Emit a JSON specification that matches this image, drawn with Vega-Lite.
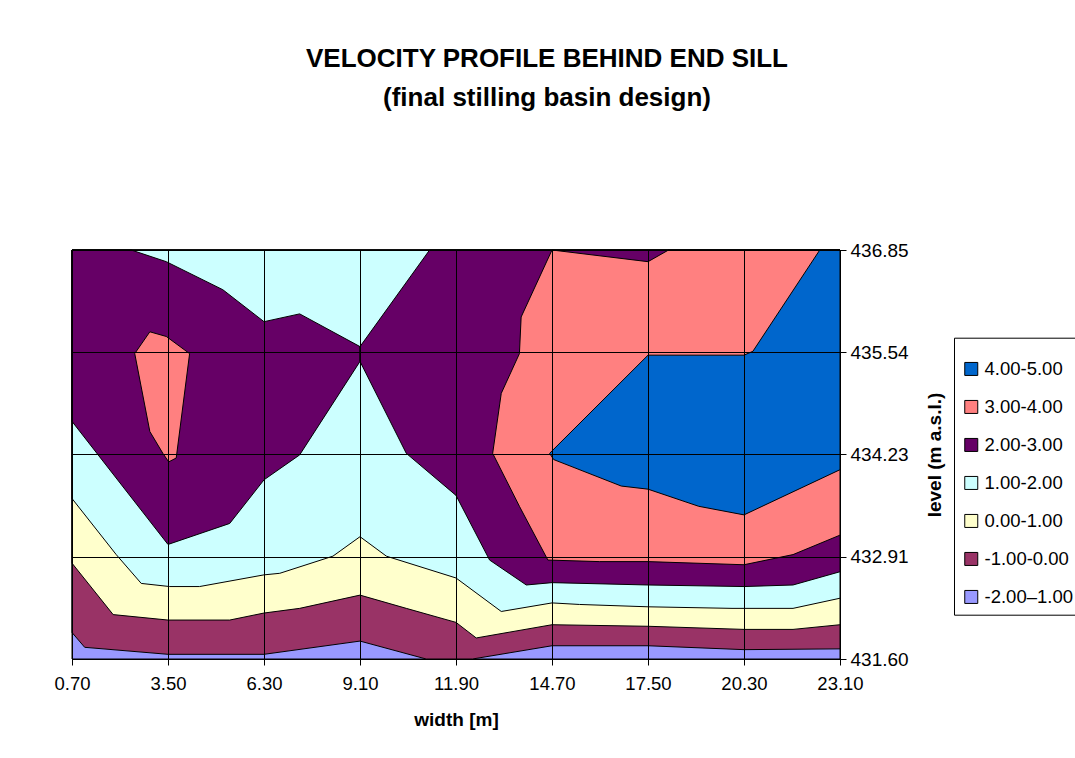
{
  "$schema": "https://vega.github.io/schema/vega-lite/v6.json",
  "width": 768,
  "height": 409,
  "autosize": {"type": "none"},
  "padding": {"left": 72, "top": 250, "right": 235, "bottom": 99},
  "background": "white",
  "title": {
    "text": ["VELOCITY PROFILE BEHIND END SILL", "(final stilling basin design)"],
    "font": "Liberation Sans",
    "fontSize": 26,
    "fontWeight": "bold",
    "color": "black",
    "lineHeight": 39,
    "anchor": "middle",
    "dx": 91,
    "offset": 130
  },
  "config": {
    "view": {"stroke": "black", "strokeWidth": 1},
    "font": "Liberation Sans"
  },
  "data": {
    "values": [
      {"poly": "lav", "band": "-2.00–1.00", "i": 0, "x": 0.7, "y": 436.85},
      {"poly": "lav", "band": "-2.00–1.00", "i": 1, "x": 23.1, "y": 436.85},
      {"poly": "lav", "band": "-2.00–1.00", "i": 2, "x": 23.1, "y": 431.6},
      {"poly": "lav", "band": "-2.00–1.00", "i": 3, "x": 0.7, "y": 431.6},

      {"poly": "mar", "band": "-1.00-0.00", "i": 0, "x": 0.7, "y": 436.85},
      {"poly": "mar", "band": "-1.00-0.00", "i": 1, "x": 23.1, "y": 436.85},
      {"poly": "mar", "band": "-1.00-0.00", "i": 2, "x": 23.1, "y": 431.73},
      {"poly": "mar", "band": "-1.00-0.00", "i": 3, "x": 20.3, "y": 431.72},
      {"poly": "mar", "band": "-1.00-0.00", "i": 4, "x": 17.5, "y": 431.77},
      {"poly": "mar", "band": "-1.00-0.00", "i": 5, "x": 14.7, "y": 431.77},
      {"poly": "mar", "band": "-1.00-0.00", "i": 6, "x": 12.38, "y": 431.6},
      {"poly": "mar", "band": "-1.00-0.00", "i": 7, "x": 11.03, "y": 431.6},
      {"poly": "mar", "band": "-1.00-0.00", "i": 8, "x": 9.1, "y": 431.83},
      {"poly": "mar", "band": "-1.00-0.00", "i": 9, "x": 6.3, "y": 431.66},
      {"poly": "mar", "band": "-1.00-0.00", "i": 10, "x": 3.5, "y": 431.66},
      {"poly": "mar", "band": "-1.00-0.00", "i": 11, "x": 1.07, "y": 431.75},
      {"poly": "mar", "band": "-1.00-0.00", "i": 12, "x": 0.7, "y": 431.94},

      {"poly": "yel", "band": "0.00-1.00", "i": 0, "x": 0.7, "y": 436.85},
      {"poly": "yel", "band": "0.00-1.00", "i": 1, "x": 23.1, "y": 436.85},
      {"poly": "yel", "band": "0.00-1.00", "i": 2, "x": 23.1, "y": 432.04},
      {"poly": "yel", "band": "0.00-1.00", "i": 3, "x": 21.73, "y": 431.98},
      {"poly": "yel", "band": "0.00-1.00", "i": 4, "x": 20.3, "y": 431.98},
      {"poly": "yel", "band": "0.00-1.00", "i": 5, "x": 17.5, "y": 432.02},
      {"poly": "yel", "band": "0.00-1.00", "i": 6, "x": 14.7, "y": 432.04},
      {"poly": "yel", "band": "0.00-1.00", "i": 7, "x": 12.49, "y": 431.87},
      {"poly": "yel", "band": "0.00-1.00", "i": 8, "x": 11.9, "y": 432.07},
      {"poly": "yel", "band": "0.00-1.00", "i": 9, "x": 10.45, "y": 432.25},
      {"poly": "yel", "band": "0.00-1.00", "i": 10, "x": 9.1, "y": 432.42},
      {"poly": "yel", "band": "0.00-1.00", "i": 11, "x": 7.34, "y": 432.25},
      {"poly": "yel", "band": "0.00-1.00", "i": 12, "x": 6.3, "y": 432.19},
      {"poly": "yel", "band": "0.00-1.00", "i": 13, "x": 5.3, "y": 432.1},
      {"poly": "yel", "band": "0.00-1.00", "i": 14, "x": 3.5, "y": 432.1},
      {"poly": "yel", "band": "0.00-1.00", "i": 15, "x": 1.9, "y": 432.17},
      {"poly": "yel", "band": "0.00-1.00", "i": 16, "x": 0.7, "y": 432.83},

      {"poly": "cya", "band": "1.00-2.00", "i": 0, "x": 0.7, "y": 436.85},
      {"poly": "cya", "band": "1.00-2.00", "i": 1, "x": 23.1, "y": 436.85},
      {"poly": "cya", "band": "1.00-2.00", "i": 2, "x": 23.1, "y": 432.38},
      {"poly": "cya", "band": "1.00-2.00", "i": 3, "x": 21.73, "y": 432.25},
      {"poly": "cya", "band": "1.00-2.00", "i": 4, "x": 19.95, "y": 432.25},
      {"poly": "cya", "band": "1.00-2.00", "i": 5, "x": 17.5, "y": 432.27},
      {"poly": "cya", "band": "1.00-2.00", "i": 6, "x": 15.5, "y": 432.3},
      {"poly": "cya", "band": "1.00-2.00", "i": 7, "x": 14.7, "y": 432.32},
      {"poly": "cya", "band": "1.00-2.00", "i": 8, "x": 13.22, "y": 432.21},
      {"poly": "cya", "band": "1.00-2.00", "i": 9, "x": 11.9, "y": 432.64},
      {"poly": "cya", "band": "1.00-2.00", "i": 10, "x": 9.87, "y": 432.92},
      {"poly": "cya", "band": "1.00-2.00", "i": 11, "x": 9.1, "y": 433.17},
      {"poly": "cya", "band": "1.00-2.00", "i": 12, "x": 8.31, "y": 432.92},
      {"poly": "cya", "band": "1.00-2.00", "i": 13, "x": 6.76, "y": 432.7},
      {"poly": "cya", "band": "1.00-2.00", "i": 14, "x": 6.3, "y": 432.68},
      {"poly": "cya", "band": "1.00-2.00", "i": 15, "x": 4.42, "y": 432.53},
      {"poly": "cya", "band": "1.00-2.00", "i": 16, "x": 3.55, "y": 432.53},
      {"poly": "cya", "band": "1.00-2.00", "i": 17, "x": 2.72, "y": 432.57},
      {"poly": "cya", "band": "1.00-2.00", "i": 18, "x": 1.99, "y": 432.94},
      {"poly": "cya", "band": "1.00-2.00", "i": 19, "x": 0.7, "y": 433.66},

      {"poly": "pur1", "band": "2.00-3.00", "i": 0, "x": 0.7, "y": 436.85},
      {"poly": "pur1", "band": "2.00-3.00", "i": 1, "x": 2.43, "y": 436.85},
      {"poly": "pur1", "band": "2.00-3.00", "i": 2, "x": 3.45, "y": 436.7},
      {"poly": "pur1", "band": "2.00-3.00", "i": 3, "x": 5.1, "y": 436.34},
      {"poly": "pur1", "band": "2.00-3.00", "i": 4, "x": 6.3, "y": 435.93},
      {"poly": "pur1", "band": "2.00-3.00", "i": 5, "x": 7.34, "y": 436.03},
      {"poly": "pur1", "band": "2.00-3.00", "i": 6, "x": 9.1, "y": 435.61},
      {"poly": "pur1", "band": "2.00-3.00", "i": 7, "x": 9.1, "y": 435.42},
      {"poly": "pur1", "band": "2.00-3.00", "i": 8, "x": 7.34, "y": 434.22},
      {"poly": "pur1", "band": "2.00-3.00", "i": 9, "x": 6.3, "y": 433.9},
      {"poly": "pur1", "band": "2.00-3.00", "i": 10, "x": 5.3, "y": 433.34},
      {"poly": "pur1", "band": "2.00-3.00", "i": 11, "x": 3.5, "y": 433.07},
      {"poly": "pur1", "band": "2.00-3.00", "i": 12, "x": 0.7, "y": 434.65},

      {"poly": "pur2", "band": "2.00-3.00", "i": 0, "x": 9.1, "y": 435.61},
      {"poly": "pur2", "band": "2.00-3.00", "i": 1, "x": 11.13, "y": 436.85},
      {"poly": "pur2", "band": "2.00-3.00", "i": 2, "x": 23.1, "y": 436.85},
      {"poly": "pur2", "band": "2.00-3.00", "i": 3, "x": 23.1, "y": 432.72},
      {"poly": "pur2", "band": "2.00-3.00", "i": 4, "x": 21.73, "y": 432.55},
      {"poly": "pur2", "band": "2.00-3.00", "i": 5, "x": 20.3, "y": 432.53},
      {"poly": "pur2", "band": "2.00-3.00", "i": 6, "x": 17.5, "y": 432.55},
      {"poly": "pur2", "band": "2.00-3.00", "i": 7, "x": 14.7, "y": 432.58},
      {"poly": "pur2", "band": "2.00-3.00", "i": 8, "x": 13.95, "y": 432.55},
      {"poly": "pur2", "band": "2.00-3.00", "i": 9, "x": 12.88, "y": 432.87},
      {"poly": "pur2", "band": "2.00-3.00", "i": 10, "x": 11.9, "y": 433.7},
      {"poly": "pur2", "band": "2.00-3.00", "i": 11, "x": 10.45, "y": 434.24},
      {"poly": "pur2", "band": "2.00-3.00", "i": 12, "x": 9.1, "y": 435.42},

      {"poly": "sal1", "band": "3.00-4.00", "i": 0, "x": 14.7, "y": 436.85},
      {"poly": "sal1", "band": "3.00-4.00", "i": 1, "x": 17.5, "y": 436.7},
      {"poly": "sal1", "band": "3.00-4.00", "i": 2, "x": 18.1, "y": 436.85},
      {"poly": "sal1", "band": "3.00-4.00", "i": 3, "x": 23.1, "y": 436.85},
      {"poly": "sal1", "band": "3.00-4.00", "i": 4, "x": 23.1, "y": 433.19},
      {"poly": "sal1", "band": "3.00-4.00", "i": 5, "x": 21.73, "y": 432.94},
      {"poly": "sal1", "band": "3.00-4.00", "i": 6, "x": 20.3, "y": 432.81},
      {"poly": "sal1", "band": "3.00-4.00", "i": 7, "x": 17.5, "y": 432.85},
      {"poly": "sal1", "band": "3.00-4.00", "i": 8, "x": 16.09, "y": 432.85},
      {"poly": "sal1", "band": "3.00-4.00", "i": 9, "x": 14.58, "y": 432.87},
      {"poly": "sal1", "band": "3.00-4.00", "i": 10, "x": 13.75, "y": 433.56},
      {"poly": "sal1", "band": "3.00-4.00", "i": 11, "x": 12.97, "y": 434.24},
      {"poly": "sal1", "band": "3.00-4.00", "i": 12, "x": 13.22, "y": 435.01},
      {"poly": "sal1", "band": "3.00-4.00", "i": 13, "x": 13.75, "y": 435.52},
      {"poly": "sal1", "band": "3.00-4.00", "i": 14, "x": 13.8, "y": 435.99},

      {"poly": "sal2", "band": "3.00-4.00", "i": 0, "x": 2.97, "y": 435.8},
      {"poly": "sal2", "band": "3.00-4.00", "i": 1, "x": 3.45, "y": 435.74},
      {"poly": "sal2", "band": "3.00-4.00", "i": 2, "x": 4.13, "y": 435.52},
      {"poly": "sal2", "band": "3.00-4.00", "i": 3, "x": 3.74, "y": 434.18},
      {"poly": "sal2", "band": "3.00-4.00", "i": 4, "x": 3.52, "y": 434.13},
      {"poly": "sal2", "band": "3.00-4.00", "i": 5, "x": 3.35, "y": 434.24},
      {"poly": "sal2", "band": "3.00-4.00", "i": 6, "x": 2.97, "y": 434.52},
      {"poly": "sal2", "band": "3.00-4.00", "i": 7, "x": 2.53, "y": 435.52},

      {"poly": "blu", "band": "4.00-5.00", "i": 0, "x": 22.51, "y": 436.85},
      {"poly": "blu", "band": "4.00-5.00", "i": 1, "x": 23.1, "y": 436.85},
      {"poly": "blu", "band": "4.00-5.00", "i": 2, "x": 23.1, "y": 434.03},
      {"poly": "blu", "band": "4.00-5.00", "i": 3, "x": 20.3, "y": 433.45},
      {"poly": "blu", "band": "4.00-5.00", "i": 4, "x": 18.98, "y": 433.56},
      {"poly": "blu", "band": "4.00-5.00", "i": 5, "x": 17.5, "y": 433.78},
      {"poly": "blu", "band": "4.00-5.00", "i": 6, "x": 16.72, "y": 433.82},
      {"poly": "blu", "band": "4.00-5.00", "i": 7, "x": 14.75, "y": 434.16},
      {"poly": "blu", "band": "4.00-5.00", "i": 8, "x": 14.63, "y": 434.24},
      {"poly": "blu", "band": "4.00-5.00", "i": 9, "x": 17.5, "y": 435.5},
      {"poly": "blu", "band": "4.00-5.00", "i": 10, "x": 20.3, "y": 435.5},
      {"poly": "blu", "band": "4.00-5.00", "i": 11, "x": 20.56, "y": 435.55}
    ]
  },
  "encoding": {
    "x": {
      "field": "x",
      "type": "quantitative",
      "scale": {"domain": [0.7, 23.1], "nice": false, "zero": false},
      "axis": {
        "title": "width [m]",
        "values": [0.7, 3.5, 6.3, 9.1, 11.9, 14.7, 17.5, 20.3, 23.1],
        "format": ".2f",
        "labelFlush": false,
        "labelOverlap": false,
        "labelFont": "Liberation Sans",
        "labelFontSize": 18.5,
        "labelColor": "black",
        "labelPadding": 9,
        "tickColor": "black",
        "tickSize": 6,
        "domainColor": "black",
        "grid": true,
        "gridColor": "black",
        "gridOpacity": 1,
        "gridWidth": 1,
        "zindex": 1,
        "titleFont": "Liberation Sans",
        "titleFontSize": 19,
        "titleFontWeight": "bold",
        "titleColor": "black",
        "titlePadding": 18
      }
    },
    "y": {
      "field": "y",
      "type": "quantitative",
      "scale": {"domain": [431.6, 436.85], "nice": false, "zero": false},
      "axis": {
        "orient": "right",
        "title": "level (m a.s.l.)",
        "values": [431.6, 432.91, 434.23, 435.54, 436.85],
        "format": ".2f",
        "labelFlush": false,
        "labelOverlap": false,
        "labelFont": "Liberation Sans",
        "labelFontSize": 19,
        "labelColor": "black",
        "labelPadding": 4,
        "tickColor": "black",
        "tickSize": 6,
        "domainColor": "black",
        "grid": true,
        "gridColor": "black",
        "gridOpacity": 1,
        "gridWidth": 1,
        "zindex": 1,
        "titleFont": "Liberation Sans",
        "titleFontSize": 19,
        "titleFontWeight": "bold",
        "titleColor": "black",
        "titleAngle": 270,
        "titleBaseline": "top",
        "titlePadding": 17
      }
    },
    "order": {"field": "i", "type": "quantitative"},
    "detail": {"field": "poly"},
    "fill": {
      "field": "band",
      "type": "nominal",
      "scale": {
        "domain": ["4.00-5.00", "3.00-4.00", "2.00-3.00", "1.00-2.00", "0.00-1.00", "-1.00-0.00", "-2.00–1.00"],
        "range": ["#0066CC", "#FF8080", "#660066", "#CCFFFF", "#FFFFCC", "#993366", "#9999FF"]
      },
      "legend": {
        "title": " ",
        "titleFontSize": 10,
        "titlePadding": 4,
        "orient": "none",
        "legendX": 882,
        "legendY": 87.7,
        "padding": 8,
        "strokeColor": "black",
        "symbolType": "square",
        "symbolSize": 169,
        "symbolStrokeColor": "black",
        "symbolStrokeWidth": 1,
        "symbolOpacity": 1,
        "labelFont": "Liberation Sans",
        "labelFontSize": 18.5,
        "labelColor": "black",
        "labelOffset": 4,
        "rowPadding": 19,
        "labelLimit": 300
      }
    }
  },
  "layer": [
    {"transform": [{"filter": "datum.band === '-2.00–1.00'"}], "mark": {"type": "line", "interpolate": "linear-closed", "stroke": "black", "strokeWidth": 1}},
    {"transform": [{"filter": "datum.band === '-1.00-0.00'"}], "mark": {"type": "line", "interpolate": "linear-closed", "stroke": "black", "strokeWidth": 1}},
    {"transform": [{"filter": "datum.band === '0.00-1.00'"}], "mark": {"type": "line", "interpolate": "linear-closed", "stroke": "black", "strokeWidth": 1}},
    {"transform": [{"filter": "datum.band === '1.00-2.00'"}], "mark": {"type": "line", "interpolate": "linear-closed", "stroke": "black", "strokeWidth": 1}},
    {"transform": [{"filter": "datum.band === '2.00-3.00'"}], "mark": {"type": "line", "interpolate": "linear-closed", "stroke": "black", "strokeWidth": 1}},
    {"transform": [{"filter": "datum.band === '3.00-4.00'"}], "mark": {"type": "line", "interpolate": "linear-closed", "stroke": "black", "strokeWidth": 1}},
    {"transform": [{"filter": "datum.band === '4.00-5.00'"}], "mark": {"type": "line", "interpolate": "linear-closed", "stroke": "black", "strokeWidth": 1}}
  ]
}
